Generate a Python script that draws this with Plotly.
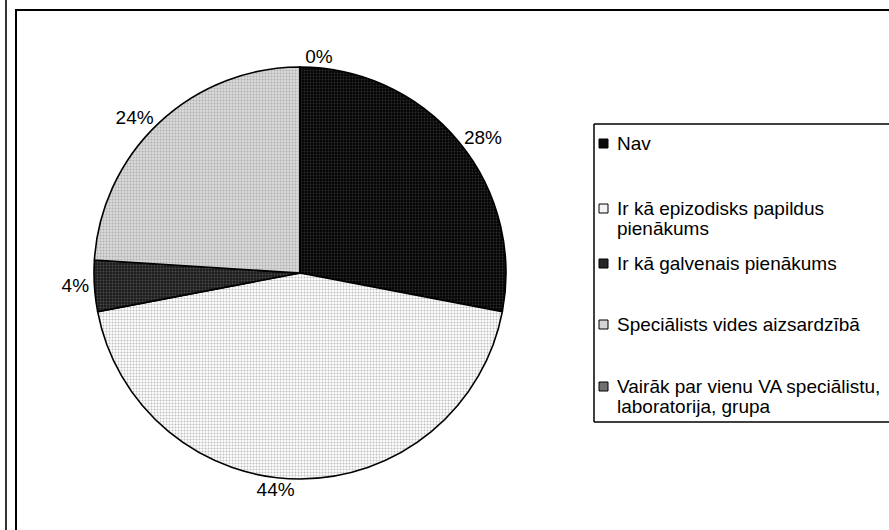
import plotly.graph_objects as go

categories = [
    "Nav",
    "Ir kā epizodisks papildus<br>pienākums",
    "Ir kā galvenais pienākums",
    "Speciālists vides aizsardzībā",
    "Vairāk par vienu VA speciālistu,<br>laboratorija, grupa",
]
values = [28, 44, 4, 24, 0]

bg_colors = ["#030303", "#ffffff", "#1c1c1c", "#dadada", "#6e6e6e"]
fg_colors = ["#2c2c2c", "#bdbdbd", "#4a4a4a", "#b0b0b0", "#a0a0a0"]
swatch_colors = ["#0a0a0a", "#f4f4f4", "#262626", "#d4d4d4", "#707070"]

W, H = 889, 530
cx, cy, r = 300, 273, 206

# manual legend layout (pixels)
leg_left, leg_top, leg_bottom = 594, 124, 422
entry_first_line_y = [143, 208, 263, 324, 386]
line_step = 20
FONT = "Liberation Sans, Arial"

fig = go.Figure(
    go.Pie(
        labels=categories,
        values=values,
        sort=False,
        direction="clockwise",
        rotation=0,
        texttemplate="%{percent:.0%}",
        textposition="outside",
        textfont=dict(family=FONT, size=19, color="#000000"),
        marker=dict(
            colors=bg_colors,
            line=dict(color="#000000", width=1.6),
            pattern=dict(
                shape=[".", ".", ".", ".", "."],
                fgcolor=fg_colors,
                bgcolor=bg_colors,
                size=3,
                solidity=0.35,
            ),
        ),
        domain=dict(
            x=[(cx - r) / W, (cx + r) / W],
            y=[(H - cy - r) / H, (H - cy + r) / H],
        ),
        hoverinfo="percent",
        showlegend=False,
    )
)


def px(x):
    return x / W


def py(y):
    return 1 - y / H


shapes = [
    dict(type="line", xref="paper", yref="paper", x0=px(6), x1=px(6), y0=py(H + 20), y1=1,
         line=dict(color="#333333", width=2)),
    dict(type="line", xref="paper", yref="paper", x0=px(16), x1=px(16), y0=py(H + 20), y1=py(10),
         line=dict(color="#000000", width=2)),
    dict(type="line", xref="paper", yref="paper", x0=px(15), x1=px(W + 40), y0=py(10), y1=py(10),
         line=dict(color="#000000", width=2)),
    # legend frame: open on the right (it runs past the picture edge)
    dict(type="line", xref="paper", yref="paper", x0=px(leg_left), x1=px(W + 40),
         y0=py(leg_top), y1=py(leg_top), line=dict(color="#000000", width=1.5)),
    dict(type="line", xref="paper", yref="paper", x0=px(leg_left), x1=px(W + 40),
         y0=py(leg_bottom), y1=py(leg_bottom), line=dict(color="#000000", width=1.5)),
    dict(type="line", xref="paper", yref="paper", x0=px(leg_left), x1=px(leg_left),
         y0=py(leg_bottom), y1=py(leg_top), line=dict(color="#000000", width=1.5)),
]

annotations = []
for i, cat in enumerate(categories):
    y0 = entry_first_line_y[i]
    shapes.append(
        dict(type="rect", xref="paper", yref="paper",
             x0=px(599), x1=px(608), y0=py(y0 + 5), y1=py(y0 - 4),
             fillcolor=swatch_colors[i], line=dict(color="#000000", width=1))
    )
    for j, line in enumerate(cat.split("<br>")):
        annotations.append(
            dict(xref="paper", yref="paper", x=px(615), y=py(y0 + j * line_step),
                 xanchor="left", yanchor="middle", showarrow=False, text=line,
                 font=dict(family=FONT, size=19, color="#000000"))
        )

fig.update_layout(
    width=W,
    height=H,
    margin=dict(l=0, r=0, t=0, b=0, autoexpand=False),
    paper_bgcolor="#ffffff",
    plot_bgcolor="#ffffff",
    font=dict(family=FONT, size=17, color="#000000"),
    shapes=shapes,
    annotations=annotations,
    showlegend=False,
)

fig.write_html(
    "out.html",
    config={"displayModeBar": False},
    post_script="document.body.style.margin='0';document.body.style.overflow='hidden';",
)
